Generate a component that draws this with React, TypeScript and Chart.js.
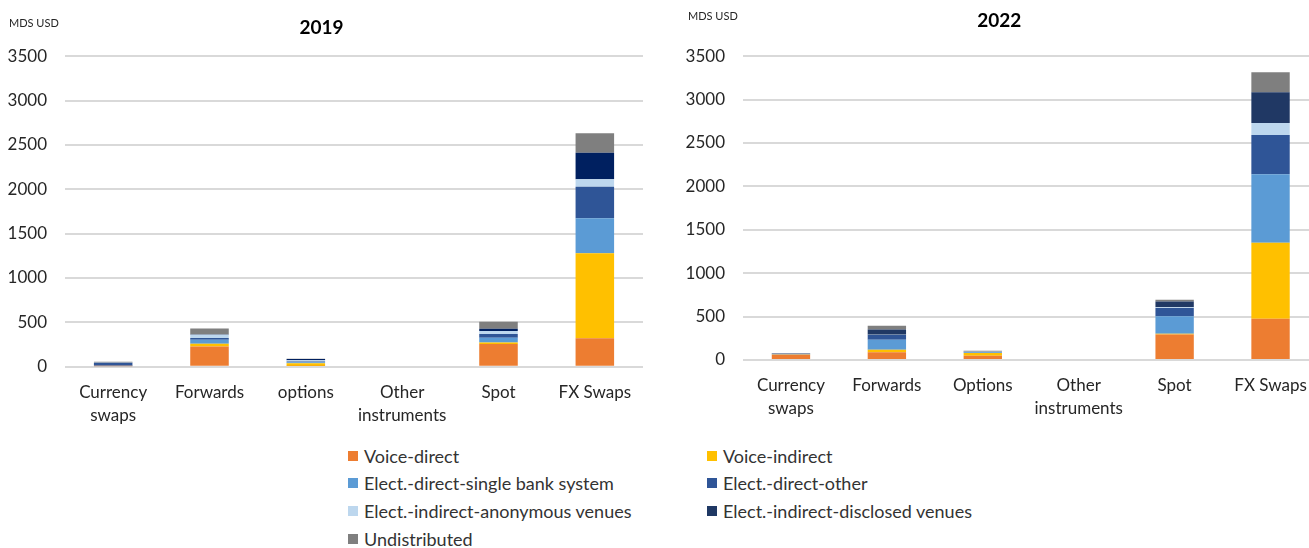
import React, { useEffect, useRef } from "react";
import { Chart, registerables } from "chart.js";

Chart.register(...registerables);

const categories2019: (string | string[])[] = [["Currency", "swaps"], "Forwards", "options", ["Other", "instruments"], "Spot", "FX Swaps"];
const categories2022: (string | string[])[] = [["Currency", "swaps"], "Forwards", "Options", ["Other", "instruments"], "Spot", "FX Swaps"];

const seriesNames = [
  "Voice-direct",
  "Voice-indirect",
  "Elect.-direct-single bank system",
  "Elect.-direct-other",
  "Elect.-indirect-anonymous venues",
  "Elect.-indirect-disclosed venues",
  "Undistributed",
];

const voiceDirect2019 = [4, 229, 8, 0, 256, 320];
const voiceIndirect2019 = [2, 30, 30, 0, 18, 958];
const singleBank2019 = [5, 45, 12, 0, 53, 395];
const directOther2019 = [31, 19, 10, 0, 42, 356];
const anonymous2019 = [2, 38, 12, 0, 33, 84];
const disclosed2019 = [3, 3, 14, 0, 27, 300];
const undistributed2019 = [9, 68, 4, 0, 79, 218];

const voiceDirect2022 = [60, 88, 50, 0, 293, 476];
const voiceIndirect2022 = [2, 30, 30, 0, 10, 876];
const singleBank2022 = [3, 115, 8, 0, 200, 787];
const directOther2022 = [6, 54, 5, 0, 95, 453];
const anonymous2022 = [2, 5, 3, 0, 10, 138];
const disclosed2022 = [2, 60, 2, 0, 65, 354];
const undistributed2022 = [3, 43, 10, 0, 20, 230];

const yTicks = [0, 500, 1000, 1500, 2000, 2500, 3000, 3500];

const colors2019 = ["#ED7D31", "#FFC000", "#5B9BD5", "#2F5597", "#BDD7EE", "#002060", "#7F7F7F"];
const colors2022 = ["#ED7D31", "#FFC000", "#5B9BD5", "#2F5597", "#BDD7EE", "#203864", "#7F7F7F"];
const legendColors = ["#ED7D31", "#FFC000", "#5B9BD5", "#2F5597", "#BDD7EE", "#1F3864", "#7F7F7F"];

const FONT = "Lato, 'Open Sans', sans-serif";

type PanelProps = {
  title: string;
  labels: (string | string[])[];
  series: number[][];
  colors: string[];
  left: number;
  width: number;
  axisWidth: number;
  padRight: number;
  titlePadTop: number;
  titlePadBottom: number;
  xAxisHeight: number;
};

function ChartPanel(p: PanelProps) {
  const ref = useRef<HTMLCanvasElement | null>(null);
  useEffect(() => {
    if (!ref.current) return;
    const chart = new Chart(ref.current, {
      type: "bar",
      data: {
        labels: p.labels,
        datasets: p.series.map((d, i) => ({
          label: seriesNames[i],
          data: d,
          backgroundColor: p.colors[i],
          borderWidth: 0,
          categoryPercentage: 0.8,
          barPercentage: 0.5,
        })),
      },
      options: {
        animation: false,
        responsive: true,
        maintainAspectRatio: false,
        layout: { padding: { left: 0, right: p.padRight, top: 0, bottom: 0 } },
        plugins: {
          legend: { display: false },
          tooltip: { enabled: false },
          title: {
            display: true,
            text: p.title,
            color: "#000",
            font: { family: FONT, size: 19, weight: "bold", lineHeight: 1.2 },
            padding: { top: p.titlePadTop, bottom: p.titlePadBottom },
          },
        },
        scales: {
          x: {
            stacked: true,
            grid: { display: false },
            border: { display: false },
            ticks: {
              color: "#262626",
              font: { family: FONT, size: 17, lineHeight: 1.35 },
              padding: 6,
              maxRotation: 0,
              autoSkip: false,
            },
            afterFit: (s: any) => {
              s.height = p.xAxisHeight;
            },
          },
          y: {
            stacked: true,
            min: 0,
            max: 3500,
            grid: { color: "#D9D9D9", lineWidth: 2, drawTicks: false },
            border: { display: false },
            afterBuildTicks: (s: any) => {
              s.ticks = yTicks.map((v) => ({ value: v }));
            },
            ticks: {
              color: "#262626",
              font: { family: FONT, size: 17 },
              padding: 18,
              callback: (v: any) => String(v),
            },
            afterFit: (s: any) => {
              s.width = p.axisWidth;
            },
          },
        },
      },
    });
    return () => chart.destroy();
  }, []);
  return (
    <div style={{ position: "absolute", left: p.left, top: 0, width: p.width, height: 440 }}>
      <canvas ref={ref} />
    </div>
  );
}

function LegendItem({ name, color, x, y }: { name: string; color: string; x: number; y: number }) {
  return (
    <div
      style={{
        position: "absolute",
        left: x,
        top: y - 12,
        height: 24,
        display: "flex",
        alignItems: "center",
        fontFamily: FONT,
        fontSize: 18,
        color: "#333",
        whiteSpace: "nowrap",
      }}
    >
      <span style={{ display: "inline-block", width: 10, height: 10, background: color, marginRight: 6 }} />
      <span>{name}</span>
    </div>
  );
}

export default function App() {
  const legendPos = [
    [348, 456],
    [707, 456],
    [348, 483],
    [707, 483],
    [348, 511],
    [707, 511],
    [348, 539],
  ];
  return (
    <div style={{ position: "absolute", left: 0, top: 0, width: 1309, height: 548, overflow: "hidden", background: "#fff" }}>
      <ChartPanel
        title="2019"
        labels={categories2019}
        series={[voiceDirect2019, voiceIndirect2019, singleBank2019, directOther2019, anonymous2019, disclosed2019, undistributed2019]}
        colors={colors2019}
        left={0}
        width={664}
        axisWidth={65}
        padRight={21}
        titlePadTop={16.6}
        titlePadBottom={16.8}
        xAxisHeight={73.3}
      />
      <ChartPanel
        title="2022"
        labels={categories2022}
        series={[voiceDirect2022, voiceIndirect2022, singleBank2022, directOther2022, anonymous2022, disclosed2022, undistributed2022]}
        colors={colors2022}
        left={680}
        width={660}
        axisWidth={63}
        padRight={21.5}
        titlePadTop={9.6}
        titlePadBottom={23.8}
        xAxisHeight={80}
      />
      <div style={{ position: "absolute", left: 9, top: 16, fontFamily: FONT, fontSize: 11, color: "#262626" }}>MDS USD</div>
      <div style={{ position: "absolute", left: 688, top: 9, fontFamily: FONT, fontSize: 11, color: "#262626" }}>MDS USD</div>
      {seriesNames.map((n, i) => (
        <LegendItem key={n} name={n} color={legendColors[i]} x={legendPos[i][0]} y={legendPos[i][1]} />
      ))}
    </div>
  );
}
